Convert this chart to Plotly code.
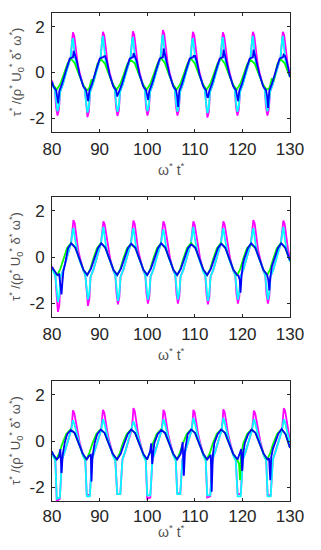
import plotly.graph_objects as go

# ---------------- Panel 1 ----------------
p1_mag_x = [80.0, 80.2, 80.6, 80.85,
    81.15, 81.45, 81.7, 82.3, 83.0, 83.9, 84.25, 84.4, 84.68, 84.96, 85.4, 85.8, 86.5, 86.9, 87.15,
    87.45, 87.75, 88.0, 88.6, 89.3, 90.2, 90.55, 90.7, 90.98, 91.26, 91.7, 92.1, 92.8, 93.2, 93.45,
    93.75, 94.05, 94.3, 94.9, 95.6, 96.5, 96.85, 97.0, 97.28, 97.56, 98.0, 98.4, 99.1, 99.5, 99.75,
    100.05, 100.35, 100.6, 101.2, 101.9, 102.8, 103.15, 103.3, 103.58, 103.86, 104.3, 104.7, 105.4, 105.8, 106.05,
    106.35, 106.65, 106.9, 107.5, 108.2, 109.1, 109.45, 109.6, 109.88, 110.16, 110.6, 111.0, 111.7, 112.1, 112.35,
    112.65, 112.95, 113.2, 113.8, 114.5, 115.4, 115.75, 115.9, 116.18, 116.46, 116.9, 117.3, 118.0, 118.4, 118.65,
    118.95, 119.25, 119.5, 120.1, 120.8, 121.7, 122.05, 122.2, 122.48, 122.76, 123.2, 123.6, 124.3, 124.7, 124.95,
    125.25, 125.55, 125.8, 126.4, 127.1, 128.0, 128.35, 128.5, 128.78, 129.06, 129.5, 129.9, 130.0]
p1_mag_y = [-0.35, -0.55, -0.72, -1.5,
    -1.88, -1.63, -0.85, -0.5, 0.05, 0.62, 1.45, 1.75, 1.6, 1.1, 0.38, 0.0, -0.55, -0.72, -1.5,
    -1.95, -1.7, -0.85, -0.5, 0.05, 0.62, 1.45, 1.78, 1.63, 1.1, 0.38, 0.0, -0.55, -0.72, -1.5,
    -1.9, -1.65, -0.85, -0.5, 0.05, 0.62, 1.48, 1.8, 1.65, 1.12, 0.38, 0.0, -0.55, -0.72, -1.5,
    -1.88, -1.63, -0.85, -0.5, 0.05, 0.62, 1.5, 1.85, 1.7, 1.15, 0.4, 0.0, -0.55, -0.72, -1.5,
    -1.88, -1.63, -0.85, -0.5, 0.05, 0.62, 1.45, 1.78, 1.63, 1.1, 0.38, 0.0, -0.55, -0.72, -1.5,
    -1.97, -1.72, -0.85, -0.5, 0.05, 0.62, 1.45, 1.75, 1.6, 1.1, 0.38, 0.0, -0.55, -0.72, -1.5,
    -1.88, -1.63, -0.85, -0.5, 0.05, 0.62, 1.45, 1.78, 1.63, 1.1, 0.38, 0.0, -0.55, -0.72, -1.5,
    -1.88, -1.63, -0.85, -0.5, 0.05, 0.62, 1.45, 1.78, 1.63, 1.1, 0.38, 0.0, -0.05]
p1_cyan_y = [-0.4, -0.6, -0.75, -1.3,
    -1.7, -1.45, -0.85, -0.5, 0.05, 0.65, 1.4, 1.5, 1.0, 0.5, 0.1, -0.15, -0.6, -0.75, -1.3,
    -1.75, -1.5, -0.85, -0.5, 0.05, 0.65, 1.45, 1.6, 1.05, 0.5, 0.1, -0.15, -0.6, -0.75, -1.3,
    -1.72, -1.47, -0.85, -0.5, 0.05, 0.65, 1.45, 1.55, 1.0, 0.5, 0.1, -0.15, -0.6, -0.75, -1.3,
    -1.7, -1.45, -0.85, -0.5, 0.05, 0.65, 1.5, 1.65, 1.1, 0.5, 0.1, -0.15, -0.6, -0.75, -1.3,
    -1.72, -1.47, -0.85, -0.5, 0.05, 0.65, 1.4, 1.5, 1.0, 0.5, 0.1, -0.15, -0.6, -0.75, -1.3,
    -1.78, -1.53, -0.85, -0.5, 0.05, 0.65, 1.45, 1.55, 1.0, 0.5, 0.1, -0.15, -0.6, -0.75, -1.3,
    -1.72, -1.47, -0.85, -0.5, 0.05, 0.65, 1.45, 1.6, 1.05, 0.5, 0.1, -0.15, -0.6, -0.75, -1.3,
    -1.7, -1.45, -0.85, -0.5, 0.05, 0.65, 1.45, 1.6, 1.05, 0.5, 0.1, -0.15, -0.2]
p1_blue_x = [80.0, 80.3, 80.88,
    81.1, 81.3, 81.55, 82.1, 82.9, 83.7, 84.1, 84.4, 84.55, 84.85, 85.2, 85.8, 86.6, 87.18,
    87.4, 87.6, 87.85, 88.4, 89.2, 90.0, 90.4, 90.7, 90.85, 91.15, 91.5, 92.1, 92.9, 93.48,
    93.7, 93.9, 94.15, 94.7, 95.5, 96.3, 96.7, 97.0, 97.15, 97.45, 97.8, 98.4, 99.2, 99.78,
    100.0, 100.2, 100.45, 101.0, 101.8, 102.6, 103.0, 103.3, 103.45, 103.75, 104.1, 104.7, 105.5, 106.08,
    106.3, 106.5, 106.75, 107.3, 108.1, 108.9, 109.3, 109.6, 109.75, 110.05, 110.4, 111.0, 111.8, 112.38,
    112.6, 112.8, 113.05, 113.6, 114.4, 115.2, 115.6, 115.9, 116.05, 116.35, 116.7, 117.3, 118.1, 118.68,
    118.9, 119.1, 119.35, 119.9, 120.7, 121.5, 121.9, 122.2, 122.35, 122.65, 123.0, 123.6, 124.4, 124.98,
    125.2, 125.4, 125.65, 126.2, 127.0, 127.8, 128.2, 128.5, 128.65, 128.95, 129.3, 129.9, 130.0]
p1_blue_y = [-0.4, -0.62, -0.78,
    -1.05, -1.35, -0.8, -0.5, 0.05, 0.6, 0.65, 0.66, 0.95, 0.72, 0.5, -0.1, -0.62, -0.78,
    -1.05, -1.25, -0.8, -0.5, 0.05, 0.6, 0.65, 0.66, 0.7, 0.72, 0.5, -0.1, -0.62, -0.78,
    -1.05, -0.95, -0.8, -0.5, 0.05, 0.6, 0.65, 0.66, 0.85, 0.72, 0.5, -0.1, -0.62, -0.78,
    -1.05, -1.2, -0.8, -0.5, 0.05, 0.6, 0.65, 0.66, 1.05, 0.75, 0.5, -0.1, -0.62, -0.78,
    -1.05, -1.5, -0.8, -0.5, 0.05, 0.6, 0.65, 0.66, 0.72, 0.72, 0.5, -0.1, -0.62, -0.78,
    -1.05, -1.1, -0.8, -0.5, 0.05, 0.6, 0.65, 0.66, 1.0, 0.75, 0.5, -0.1, -0.62, -0.78,
    -1.05, -1.25, -0.8, -0.5, 0.05, 0.6, 0.65, 0.66, 1.0, 0.75, 0.5, -0.1, -0.62, -0.78,
    -1.05, -1.55, -0.8, -0.5, 0.05, 0.6, 0.65, 0.66, 0.78, 0.72, 0.5, -0.1, -0.2]
p1_green_x = [80.0,
    81.0, 81.75, 82.5, 83.25, 83.95, 84.8, 85.65, 86.5,
    87.3, 87.8, 88.3, 88.55, 89.0, 89.55, 90.25, 91.1, 91.95, 92.8,
    93.6, 94.35, 95.1, 95.85, 96.55, 97.4, 98.25, 99.1,
    99.9, 100.65, 101.4, 102.15, 102.85, 103.7, 104.55, 105.4,
    106.2, 106.95, 107.7, 108.45, 109.15, 110.0, 110.85, 111.7,
    112.5, 113.25, 114.0, 114.75, 115.45, 116.3, 117.15, 118.0,
    118.8, 119.55, 120.3, 121.05, 121.75, 122.6, 123.45, 124.3,
    125.1, 125.7, 126.2, 126.5, 126.9, 127.35, 128.05, 128.9, 129.75, 130.0]
p1_green_y = [-0.47,
    -0.75, -0.5, -0.07, 0.38, 0.62, 0.4, -0.07, -0.52,
    -0.78, -0.7, -0.3, -0.42, -0.1, 0.38, 0.58, 0.4, -0.07, -0.52,
    -0.75, -0.5, -0.07, 0.38, 0.55, 0.4, -0.07, -0.52,
    -0.75, -0.5, -0.07, 0.38, 0.65, 0.42, -0.07, -0.52,
    -0.75, -0.5, -0.07, 0.38, 0.62, 0.4, -0.07, -0.52,
    -0.75, -0.5, -0.07, 0.38, 0.62, 0.4, -0.07, -0.52,
    -0.75, -0.5, -0.07, 0.38, 0.55, 0.38, -0.07, -0.52,
    -0.75, -0.68, -0.25, -0.38, -0.07, 0.38, 0.58, 0.4, -0.07, -0.2]

# ---------------- Panel 2 ----------------
p2_mag_x = [80.0, 80.3, 80.7, 80.95,
    81.25, 81.55, 81.8, 82.4, 83.1, 84.0, 84.35, 84.5, 84.78, 85.06, 85.5, 85.9, 86.6, 87.0, 87.25,
    87.55, 87.85, 88.1, 88.7, 89.4, 90.3, 90.65, 90.8, 91.08, 91.36, 91.8, 92.2, 92.9, 93.3, 93.55,
    93.85, 94.15, 94.4, 95.0, 95.7, 96.6, 96.95, 97.1, 97.38, 97.66, 98.1, 98.5, 99.2, 99.6, 99.85,
    100.15, 100.45, 100.7, 101.3, 102.0, 102.9, 103.25, 103.4, 103.68, 103.96, 104.4, 104.8, 105.5, 105.9, 106.15,
    106.45, 106.75, 107.0, 107.6, 108.3, 109.2, 109.55, 109.7, 109.98, 110.26, 110.7, 111.1, 111.8, 112.2, 112.45,
    112.75, 113.05, 113.3, 113.9, 114.6, 115.5, 115.85, 116.0, 116.28, 116.56, 117.0, 117.4, 118.1, 118.5, 118.75,
    119.05, 119.35, 119.6, 120.2, 120.9, 121.8, 122.15, 122.3, 122.58, 122.86, 123.3, 123.7, 124.4, 124.8, 125.05,
    125.35, 125.65, 125.9, 126.5, 127.2, 128.1, 128.45, 128.6, 128.88, 129.16, 129.6, 130.0]
p2_mag_y = [-0.4, -0.6, -0.78, -1.6,
    -2.38, -2.08, -0.85, -0.55, 0.0, 0.6, 1.3, 1.6, 1.45, 1.0, 0.3, -0.05, -0.6, -0.78, -1.6,
    -2.12, -1.82, -0.85, -0.55, 0.0, 0.6, 1.28, 1.55, 1.4, 1.0, 0.3, -0.05, -0.6, -0.78, -1.6,
    -2.05, -1.75, -0.85, -0.55, 0.0, 0.6, 1.3, 1.58, 1.43, 1.0, 0.3, -0.05, -0.6, -0.78, -1.6,
    -2.02, -1.72, -0.85, -0.55, 0.0, 0.6, 1.28, 1.55, 1.4, 1.0, 0.3, -0.05, -0.6, -0.78, -1.6,
    -2.02, -1.72, -0.85, -0.55, 0.0, 0.6, 1.28, 1.55, 1.4, 1.0, 0.3, -0.05, -0.6, -0.78, -1.6,
    -2.05, -1.75, -0.85, -0.55, 0.0, 0.6, 1.28, 1.55, 1.4, 1.0, 0.3, -0.05, -0.6, -0.78, -1.6,
    -2.02, -1.72, -0.85, -0.55, 0.0, 0.6, 1.3, 1.6, 1.45, 1.0, 0.3, -0.05, -0.6, -0.78, -1.6,
    -2.02, -1.72, -0.85, -0.55, 0.0, 0.6, 1.3, 1.58, 1.43, 1.0, 0.3, -0.05]
p2_cyan_y = [-0.45, -0.65, -0.8, -1.3,
    -1.95, -1.65, -0.85, -0.55, 0.0, 0.62, 1.15, 1.25, 0.85, 0.45, 0.05, -0.2, -0.65, -0.8, -1.3,
    -1.85, -1.55, -0.85, -0.55, 0.0, 0.62, 1.15, 1.3, 0.85, 0.45, 0.05, -0.2, -0.65, -0.8, -1.3,
    -1.9, -1.6, -0.85, -0.55, 0.0, 0.62, 1.15, 1.25, 0.85, 0.45, 0.05, -0.2, -0.65, -0.8, -1.3,
    -1.85, -1.55, -0.85, -0.55, 0.0, 0.62, 1.1, 1.2, 0.85, 0.45, 0.05, -0.2, -0.65, -0.8, -1.3,
    -1.85, -1.55, -0.85, -0.55, 0.0, 0.62, 1.15, 1.3, 0.85, 0.45, 0.05, -0.2, -0.65, -0.8, -1.3,
    -1.9, -1.6, -0.85, -0.55, 0.0, 0.62, 1.15, 1.25, 0.85, 0.45, 0.05, -0.2, -0.65, -0.8, -1.3,
    -1.85, -1.55, -0.85, -0.55, 0.0, 0.62, 1.15, 1.25, 0.85, 0.45, 0.05, -0.2, -0.65, -0.8, -1.3,
    -1.85, -1.55, -0.85, -0.55, 0.0, 0.62, 1.15, 1.3, 0.85, 0.45, 0.05, -0.2]
p2_blue_x = [80.0, 80.3,
    81.1, 81.5, 81.8, 82.0, 82.15, 82.4, 82.75, 83.35, 84.05, 84.9, 85.75, 86.6,
    87.4, 88.15, 88.9, 89.65, 90.35, 91.2, 92.05, 92.9,
    93.7, 94.45, 95.2, 95.95, 96.65, 97.5, 98.35, 99.2,
    100.0, 100.75, 101.5, 102.25, 102.95, 103.8, 104.65, 105.5,
    106.3, 107.05, 107.8, 108.55, 109.25, 110.1, 110.95, 111.8,
    112.6, 113.35, 114.1, 114.85, 115.55, 116.4, 117.25, 118.1,
    118.9, 119.15, 119.45, 119.6, 119.8, 120.1, 120.4, 121.15, 121.85, 122.7, 123.55, 124.4,
    125.2, 125.45, 125.65, 125.85, 126.2, 126.7, 127.45, 128.15, 129.0, 129.85, 130.0]
p2_blue_y = [-0.45, -0.55,
    -0.78, -0.75, -1.3, -1.62, -1.2, -0.6, -0.3, 0.38, 0.6, 0.4, -0.07, -0.55,
    -0.78, -0.52, -0.07, 0.38, 0.6, 0.4, -0.07, -0.55,
    -0.78, -0.52, -0.07, 0.38, 0.58, 0.4, -0.07, -0.55,
    -0.78, -0.52, -0.07, 0.38, 0.6, 0.4, -0.07, -0.55,
    -0.78, -0.52, -0.07, 0.38, 0.55, 0.4, -0.07, -0.55,
    -0.78, -0.52, -0.07, 0.38, 0.58, 0.4, -0.07, -0.55,
    -0.78, -0.8, -1.0, -1.55, -0.9, -0.3, -0.07, 0.38, 0.6, 0.4, -0.07, -0.55,
    -0.78, -1.0, -1.45, -0.9, -0.4, -0.07, 0.38, 0.6, 0.4, -0.07, -0.15]
p2_green_x = [80.0, 80.3,
    81.1, 81.7, 82.4, 83.15, 84.0, 84.9, 85.75, 86.6,
    87.4, 88.0, 88.7, 89.45, 90.3, 91.2, 92.05, 92.9,
    93.7, 94.3, 95.0, 95.75, 96.6, 97.5, 98.35, 99.2,
    100.0, 100.6, 101.3, 102.05, 102.9, 103.8, 104.65, 105.5,
    106.3, 106.9, 107.6, 108.35, 109.2, 110.1, 110.95, 111.8,
    112.6, 113.2, 113.9, 114.65, 115.5, 116.4, 117.25, 118.1,
    118.9, 119.5, 120.2, 120.95, 121.8, 122.7, 123.55, 124.4,
    125.2, 125.8, 126.5, 127.25, 128.1, 129.0, 129.85, 130.0]
p2_green_y = [-0.45, -0.55,
    -0.78, -0.55, -0.07, 0.38, 0.6, 0.4, -0.07, -0.55,
    -0.78, -0.55, -0.07, 0.38, 0.6, 0.4, -0.07, -0.55,
    -0.78, -0.55, -0.07, 0.38, 0.55, 0.4, -0.07, -0.55,
    -0.78, -0.55, -0.07, 0.38, 0.58, 0.4, -0.07, -0.55,
    -0.78, -0.55, -0.07, 0.38, 0.6, 0.4, -0.07, -0.55,
    -0.78, -0.55, -0.07, 0.38, 0.6, 0.4, -0.07, -0.55,
    -0.78, -0.55, -0.07, 0.38, 0.55, 0.4, -0.07, -0.55,
    -0.78, -0.55, -0.07, 0.38, 0.6, 0.4, -0.07, -0.15]

# ---------------- Panel 3 ----------------
p3_mag_x = [80.0, 80.2, 80.7,
    81.0, 81.65, 82.1, 82.7, 83.4, 84.0, 84.25, 84.4, 84.68, 84.96, 85.4, 85.8, 86.5, 87.0,
    87.3, 87.95, 88.4, 89.0, 89.7, 90.3, 90.55, 90.7, 90.98, 91.26, 91.7, 92.1, 92.8, 93.3,
    93.7, 94.35, 94.8, 95.4, 96.1, 96.7, 96.95, 97.1, 97.38, 97.66, 98.1, 98.5, 99.2, 99.7,
    100.0, 100.65, 101.1, 101.7, 102.4, 103.0, 103.25, 103.4, 103.68, 103.96, 104.4, 104.8, 105.5, 106.0,
    106.3, 106.95, 107.4, 108.0, 108.7, 109.3, 109.55, 109.7, 109.98, 110.26, 110.7, 111.1, 111.8, 112.3,
    112.6, 113.25, 113.7, 114.3, 115.0, 115.6, 115.85, 116.0, 116.28, 116.56, 117.0, 117.4, 118.1, 118.6,
    119.0, 119.65, 120.1, 120.7, 121.4, 122.0, 122.25, 122.4, 122.68, 122.96, 123.4, 123.8, 124.5, 125.0,
    125.3, 125.95, 126.4, 127.0, 127.7, 128.3, 128.55, 128.7, 128.98, 129.26, 129.7, 130.0]
p3_mag_y = [-0.45, -0.6, -0.82,
    -2.6, -2.5, -0.8, -0.45, 0.05, 0.45, 0.9, 1.33, 1.21, 0.85, 0.3, -0.05, -0.6, -0.82,
    -2.32, -2.35, -0.8, -0.45, 0.05, 0.45, 0.9, 1.35, 1.23, 0.85, 0.3, -0.05, -0.6, -0.82,
    -2.3, -2.3, -0.8, -0.45, 0.05, 0.45, 0.95, 1.43, 1.3, 0.88, 0.3, -0.05, -0.6, -0.82,
    -2.5, -2.45, -0.8, -0.45, 0.05, 0.45, 0.9, 1.35, 1.23, 0.85, 0.3, -0.05, -0.6, -0.82,
    -2.25, -2.3, -0.8, -0.45, 0.05, 0.45, 0.9, 1.35, 1.23, 0.85, 0.3, -0.05, -0.6, -0.82,
    -2.45, -2.4, -0.8, -0.45, 0.05, 0.45, 0.9, 1.37, 1.25, 0.85, 0.3, -0.05, -0.6, -0.82,
    -2.3, -2.3, -0.8, -0.45, 0.05, 0.45, 0.9, 1.32, 1.2, 0.85, 0.3, -0.05, -0.6, -0.82,
    -2.35, -2.35, -0.8, -0.45, 0.05, 0.45, 0.95, 1.42, 1.3, 0.88, 0.3, 0.0]
p3_cyan_y = [-0.5, -0.65, -0.85,
    -2.5, -2.45, -0.8, -0.45, 0.05, 0.45, 0.75, 0.9, 0.75, 0.5, 0.15, -0.15, -0.65, -0.85,
    -2.4, -2.4, -0.8, -0.45, 0.05, 0.45, 0.75, 0.95, 0.78, 0.5, 0.15, -0.15, -0.65, -0.85,
    -2.3, -2.3, -0.8, -0.45, 0.05, 0.45, 0.72, 0.85, 0.7, 0.5, 0.15, -0.15, -0.65, -0.85,
    -2.35, -2.35, -0.8, -0.45, 0.05, 0.45, 0.75, 0.95, 0.78, 0.5, 0.15, -0.15, -0.65, -0.85,
    -2.3, -2.3, -0.8, -0.45, 0.05, 0.45, 0.8, 1.0, 0.8, 0.5, 0.15, -0.15, -0.65, -0.85,
    -2.35, -2.35, -0.8, -0.45, 0.05, 0.45, 0.8, 1.0, 0.8, 0.5, 0.15, -0.15, -0.65, -0.85,
    -2.4, -2.4, -0.8, -0.45, 0.05, 0.45, 0.75, 0.95, 0.78, 0.5, 0.15, -0.15, -0.65, -0.85,
    -2.4, -2.4, -0.8, -0.45, 0.05, 0.45, 0.75, 0.95, 0.78, 0.5, 0.15, -0.1]
p3_blue_x = [80.0, 80.15,
    81.0, 81.45, 81.75, 82.0, 82.25, 82.7, 83.2, 83.95, 84.75, 85.6, 86.45,
    87.3, 87.75, 88.15, 88.3, 88.5, 88.95, 89.5, 90.25, 91.05, 91.9, 92.75,
    93.7, 94.45, 95.2, 95.9, 96.65, 97.45, 98.3, 99.15,
    100.0, 100.6, 100.85, 101.05, 101.3, 101.5, 102.2, 102.95, 103.75, 104.6, 105.45,
    106.3, 107.05, 107.45, 107.7, 107.95, 108.5, 109.25, 110.05, 110.9, 111.75,
    112.6, 113.35, 113.55, 113.8, 114.1, 114.8, 115.55, 116.35, 117.2, 118.05,
    119.0, 119.75, 119.95, 120.2, 120.5, 121.2, 121.95, 122.75, 123.6, 124.45,
    125.3, 125.6, 125.85, 126.05, 126.4, 126.8, 127.5, 128.25, 129.05, 130.0]
p3_blue_y = [-0.45, -0.55,
    -0.8, -0.7, -0.35, -1.38, -0.6, -0.05, 0.3, 0.48, 0.35, -0.1, -0.55,
    -0.8, -0.65, -0.6, -1.75, -0.7, -0.1, 0.3, 0.5, 0.35, -0.1, -0.55,
    -0.8, -0.55, -0.1, 0.3, 0.5, 0.35, -0.1, -0.55,
    -0.8, -0.45, -0.1, -1.0, -0.45, -0.1, 0.3, 0.48, 0.35, -0.1, -0.55,
    -0.8, -0.55, -0.05, -1.5, -0.4, 0.3, 0.5, 0.35, -0.1, -0.55,
    -0.8, -0.6, -2.2, -0.6, -0.1, 0.3, 0.5, 0.35, -0.1, -0.55,
    -0.8, -0.35, -1.3, -0.5, -0.1, 0.3, 0.5, 0.35, -0.1, -0.55,
    -0.8, -0.75, -1.7, -0.7, -0.35, -0.1, 0.3, 0.52, 0.3, -0.3]
p3_green_x = [80.0, 80.15,
    80.9, 81.5, 82.2, 83.0, 83.9, 84.75, 85.6, 86.45,
    87.2, 87.8, 88.5, 89.3, 90.2, 91.05, 91.9, 92.75,
    93.6, 94.2, 94.9, 95.7, 96.6, 97.45, 98.3, 99.15,
    99.9, 100.5, 101.2, 102.0, 102.9, 103.75, 104.6, 105.45,
    106.2, 106.8, 107.5, 108.3, 109.2, 110.05, 110.9, 111.75,
    112.5, 113.1, 113.8, 114.6, 115.5, 116.35, 117.2, 118.05,
    118.9, 119.3, 119.5, 119.7, 120.2, 121.0, 121.9, 122.75, 123.6, 124.45,
    125.2, 125.8, 126.5, 127.3, 128.2, 129.05, 130.0]
p3_green_y = [-0.45, -0.55,
    -0.8, -0.55, -0.1, 0.3, 0.5, 0.35, -0.1, -0.55,
    -0.8, -0.55, -0.1, 0.3, 0.5, 0.35, -0.1, -0.55,
    -0.8, -0.55, -0.1, 0.3, 0.5, 0.35, -0.1, -0.55,
    -0.8, -0.55, -0.1, 0.3, 0.5, 0.35, -0.1, -0.55,
    -0.8, -0.55, -0.1, 0.3, 0.5, 0.35, -0.1, -0.55,
    -0.8, -0.55, -0.1, 0.3, 0.5, 0.35, -0.1, -0.55,
    -0.8, -1.0, -1.7, -0.6, -0.1, 0.3, 0.5, 0.35, -0.1, -0.55,
    -0.8, -0.55, -0.1, 0.3, 0.5, 0.3, -0.3]

x_ticks = [80, 90, 100, 110, 120, 130]
y_ticks = [-2, 0, 2]
y_tick_text = ["-2", "0", "2"]

MAG, CYAN, BLUE, GREEN = "#ff00ff", "#00ffff", "#0000ff", "#00ff00"
LW = 1.8

panels = [
    (p1_mag_x, p1_mag_y, p1_cyan_y, p1_blue_x, p1_blue_y, p1_green_x, p1_green_y),
    (p2_mag_x, p2_mag_y, p2_cyan_y, p2_blue_x, p2_blue_y, p2_green_x, p2_green_y),
    (p3_mag_x, p3_mag_y, p3_cyan_y, p3_blue_x, p3_blue_y, p3_green_x, p3_green_y),
]

OFF = 8                     # default page body margin
W, H = 321 - 2 * OFF, 550 - 2 * OFF
x_dom = [(52 - OFF) / W, (290 - OFF) / W]
y_px = [(13, 132), (197, 317), (381, 501)]   # page pixel rows (top, bottom) of each panel

fig = go.Figure()
layout = dict(width=W, height=H, margin=dict(l=0, r=0, t=0, b=0, autoexpand=False),
              paper_bgcolor="white", plot_bgcolor="white", showlegend=False,
              font=dict(family="Liberation Sans, Arial, sans-serif", color="#262626"))
annotations = []
for i, (mx, my, cy, bx, by, gx, gy) in enumerate(panels):
    sfx = "" if i == 0 else str(i + 1)
    xa, ya = "x" + sfx, "y" + sfx
    for xs, ys, col in [(mx, my, MAG), (mx, cy, CYAN), (gx, gy, GREEN), (bx, by, BLUE)]:
        fig.add_trace(go.Scatter(x=xs, y=ys, mode="lines", line=dict(color=col, width=LW),
                                 xaxis=xa, yaxis=ya, hoverinfo="skip", cliponaxis=True))
    top, bot = y_px[i][0] - OFF, y_px[i][1] - OFF
    layout["xaxis" + sfx] = dict(domain=x_dom, range=[80, 130], anchor=ya, tickvals=x_ticks,
                                 ticks="inside", ticklen=3, tickcolor="#262626",
                                 showline=True, linecolor="#262626", linewidth=1, mirror="ticks",
                                 showgrid=False, zeroline=False,
                                 ticklabelstandoff=2 if i < 2 else 0,
                                 tickfont=dict(size=17, color="#262626"))
    layout["yaxis" + sfx] = dict(domain=[1 - bot / H, 1 - top / H], range=[-2.6, 2.6], anchor=xa,
                                 tickvals=y_ticks, ticktext=y_tick_text,
                                 ticks="inside", ticklen=3, tickcolor="#262626",
                                 showline=True, linecolor="#262626", linewidth=1, mirror="ticks",
                                 showgrid=False, zeroline=False, ticklabelstandoff=3,
                                 tickfont=dict(size=17, color="#262626"))
    if i < 2:
        xt = dict(y=1 - (bot + 37) / H, yanchor="middle")
    else:
        xt = dict(y=0.0, yanchor="bottom")
    annotations.append(dict(text="ω<sup>*</sup> t<sup>*</sup>", xref="paper", yref="paper",
                            x=(x_dom[0] + x_dom[1]) / 2, xanchor="center", showarrow=False,
                            font=dict(size=14, color="#505050"), **xt))
    annotations.append(dict(text="τ<sup>*</sup> /(ρ<sup>*</sup> U<sub>0</sub><sup>*</sup> δ<sup>*</sup> ω<sup>*</sup>)",
                            xref="paper", yref="paper", x=(16 - OFF) / W, y=1 - (top + bot) / 2 / H,
                            xanchor="center", yanchor="middle", textangle=-90, showarrow=False,
                            font=dict(size=13, color="#505050")))
layout["annotations"] = annotations
fig.update_layout(**layout)
fig.write_html("out.html")
